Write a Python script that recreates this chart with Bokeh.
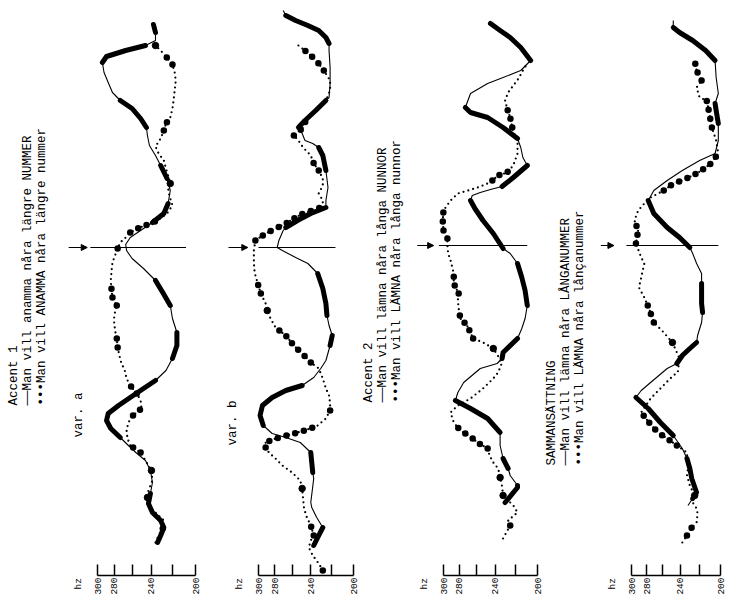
import math
from bokeh.plotting import figure
from bokeh.layouts import row
from bokeh.models import Range1d, FixedTicker, Label, Arrow, NormalHead
from bokeh.embed import file_html
from bokeh.resources import INLINE

# ---------------- data (time in ms, pitch in Hz) ----------------
hz_ticks = [300, 280, 260, 240, 220, 200]
hz_tick_labels = ["300", "280", "", "240", "", "200"]

# Panel 1 : Accent 1, var. a
p1_solid_t = [140, 168, 200, 228, 260, 296, 336, 380, 428, 468, 500, 528, 560, 596, 628, 656, 688, 720, 756, 788,
              828, 876, 928, 980, 1036, 1088, 1140, 1188, 1236, 1276, 1308, 1332, 1360, 1388, 1420, 1456, 1496, 1548,
              1596, 1648, 1688, 1728, 1768, 1800, 1836, 1876, 1908, 1940, 1980, 2020, 2060, 2084, 2108, 2128, 2148,
              2180, 2212]
p1_solid_hz = [234, 231, 228, 231, 239, 243, 241, 239, 241, 246, 256, 264, 273, 284, 289, 287, 275, 262, 248, 236,
               226, 220, 216, 216, 220, 222, 229, 236, 248, 260, 266, 267, 262, 251, 239, 228, 224, 222, 225, 231,
               236, 242, 244, 245, 251, 260, 273, 282, 287, 292, 294, 289, 267, 246, 236, 236, 238]
p1_solid_thick = [1, 1, 1, 1, 1, 1, 1, 0, 0, 0, 0, 0, 1, 1, 1, 1, 1, 1, 1, 1, 0, 1, 1, 1, 0, 1, 1, 1, 0, 0, 0, 0, 0, 0,
                  1, 1, 1, 0, 1, 1, 0, 0, 0, 1, 1, 1, 1, 0, 0, 0, 1, 1, 1, 1, 0, 1, 1]
p1_dot_t = [140, 168, 196, 228, 260, 288, 320, 348, 388, 428, 468, 500, 528, 556, 588, 620, 648, 676, 708, 736,
            768, 796, 828, 860, 888, 920, 956, 988, 1020, 1048, 1088, 1120, 1148, 1188, 1228, 1260, 1288, 1316, 1340,
            1360, 1380, 1396, 1412, 1428, 1456, 1488, 1516, 1548, 1576, 1608, 1636, 1668, 1696, 1724, 1756, 1788,
            1816, 1840, 1876, 1908, 1948, 1988, 2020, 2052, 2084, 2108, 2128, 2148]
p1_dot_hz = [236, 233, 229, 228, 236, 243, 244, 243, 239, 240, 246, 251, 262, 265, 266, 264, 259, 250, 251, 255,
             262, 266, 268, 272, 274, 276, 277, 279, 280, 280, 277, 282, 283, 284, 283, 282, 279, 276, 273, 267,
             262, 254, 244, 234, 225, 220, 222, 224, 222, 224, 226, 228, 233, 236, 231, 228, 226, 222, 220, 219,
             218, 217, 218, 220, 226, 231, 236, 238]
p1_dot_big = [0, 0, 1, 1, 0, 0, 1, 0, 0, 1, 0, 1, 1, 0, 0, 0, 1, 1, 0, 1, 1, 0, 0, 0, 0, 1, 1, 0, 0, 0, 1, 1, 1, 1,
              0, 0, 0, 1, 1, 0, 1, 1, 1, 1, 0, 0, 0, 0, 1, 0, 0, 0, 0, 0, 0, 1, 1, 1, 0, 0, 0, 0, 0, 1, 1, 0, 1, 0]

# Panel 2 : var. b
p2_solid_t = [128, 168, 200, 240, 280, 300, 396, 420, 460, 500, 540, 560, 576, 608, 648, 688, 720, 748, 768, 800,
              836, 868, 928, 968, 1008, 1048, 1096, 1156, 1216, 1256, 1280, 1308, 1320, 1348, 1388, 1400, 1428, 1456,
              1480, 1508, 1560, 1628, 1688, 1720, 1736, 1748, 1776, 1800, 1828, 1868, 1908, 1920, 1976, 2040, 2108,
              2136, 2160, 2188, 2208, 2228, 2248, 2268]
p2_solid_hz = [237, 232, 228, 234, 239, 240, 237, 238, 239, 240, 251, 267, 283, 294, 298, 295, 283, 267, 249, 237,
               230, 225, 221, 219, 222, 224, 225, 228, 233, 243, 256, 271, 277, 275, 270, 267, 254, 240, 225, 225,
               223, 225, 228, 232, 238, 246, 249, 253, 246, 235, 225, 222, 221, 221, 222, 222, 225, 232, 243, 256,
               267, 270]
p2_solid_thick = [1, 1, 1, 0, 0, 0, 0, 1, 1, 1, 0, 0, 0, 1, 1, 1, 1, 1, 1, 0, 0, 0, 1, 1, 0, 1, 1, 1, 1, 0, 0, 0, 0,
                  0, 0, 1, 1, 1, 1, 0, 0, 1, 1, 1, 0, 0, 0, 1, 1, 1, 1, 0, 0, 0, 0, 1, 1, 1, 1, 1, 1, 0]
p2_dot_t = [28, 56, 88, 120, 148, 168, 208, 240, 276, 316, 356, 388, 420, 448, 476, 500, 520, 540, 556, 572, 588,
            608, 636, 668, 696, 728, 756, 796, 836, 860, 896, 928, 968, 1000, 1036, 1068, 1096, 1136, 1176, 1220,
            1260, 1308, 1348, 1376, 1392, 1416, 1440, 1456, 1468, 1484, 1508, 1536, 1568, 1596, 1628, 1656, 1688,
            1720, 1748, 1768, 1796, 1836, 1876, 1908, 1948, 1988, 2028, 2060, 2096, 2128]
p2_dot_hz = [228, 232, 238, 242, 240, 237, 240, 244, 247, 248, 249, 251, 260, 271, 279, 287, 291, 291, 279, 262,
             246, 233, 225, 221, 221, 222, 225, 228, 232, 240, 249, 258, 267, 279, 285, 289, 291, 297, 301, 305,
             306, 306, 304, 291, 281, 267, 256, 248, 238, 228, 228, 232, 228, 228, 232, 237, 240, 248, 253, 258,
             249, 244, 232, 225, 221, 221, 227, 233, 242, 253]
p2_dot_big = [1, 1, 0, 0, 0, 1, 1, 0, 0, 0, 1, 0, 0, 0, 0, 0, 1, 1, 1, 1, 1, 1, 0, 1, 1, 0, 0, 0, 0, 1, 1, 1, 1, 1,
              0, 1, 0, 1, 1, 0, 0, 0, 1, 1, 1, 1, 1, 1, 1, 1, 0, 0, 0, 0, 1, 1, 1, 0, 0, 1, 1, 1, 0, 0, 0, 0, 1, 1,
              1, 1]

# Panel 3 : Accent 2
p3_solid_t = [300, 360, 368, 408, 436, 476, 528, 580, 636, 676, 708, 740, 780, 836, 856, 876, 900, 956, 996, 1036,
              1088, 1148, 1200, 1256, 1296, 1316, 1376, 1428, 1476, 1508, 1528, 1540, 1552, 1564, 1600, 1648, 1680,
              1720, 1756, 1800, 1840, 1860, 1880, 1936, 1976, 2000, 2028, 2068, 2120, 2160, 2188, 2216]
p3_solid_hz = [230, 218, 218, 225, 227, 232, 235, 235, 248, 267, 285, 282, 275, 256, 238, 233, 232, 218, 214, 211,
               209, 211, 214, 218, 225, 232, 242, 253, 262, 267, 265, 256, 245, 233, 222, 209, 213, 215, 218, 232,
               248, 267, 273, 267, 248, 232, 215, 206, 215, 225, 235, 245]
p3_solid_thick = [1, 1, 1, 0, 1, 1, 0, 1, 1, 1, 1, 0, 0, 0, 0, 1, 1, 1, 0, 0, 1, 1, 1, 1, 0, 1, 1, 1, 1, 1, 0, 0, 0,
                  1, 1, 1, 0, 0, 1, 1, 1, 1, 1, 0, 0, 0, 0, 1, 1, 1, 1, 1]
p3_dot_t = [156, 208, 228, 260, 288, 328, 364, 400, 436, 460, 488, 516, 540, 568, 588, 620, 660, 688, 716, 756,
            796, 820, 860, 916, 940, 956, 1008, 1036, 1076, 1108, 1136, 1176, 1216, 1268, 1296, 1328, 1356, 1388,
            1428, 1468, 1508, 1536, 1548, 1560, 1576, 1588, 1608, 1620, 1648, 1696, 1736, 1760, 1800, 1840, 1876,
            1908, 1940, 1968, 1996, 2028, 2056]
p3_dot_hz = [232, 225, 227, 218, 222, 232, 233, 235, 237, 242, 246, 248, 259, 269, 279, 287, 291, 282, 267, 253,
             242, 237, 233, 242, 253, 264, 271, 279, 281, 282, 281, 287, 287, 291, 294, 295, 295, 300, 301, 300,
             291, 282, 270, 259, 248, 243, 237, 228, 222, 218, 218, 220, 223, 225, 228, 230, 227, 222, 217, 213,
             209]
p3_dot_big = [0, 1, 1, 0, 0, 1, 0, 1, 0, 0, 0, 1, 1, 1, 1, 1, 0, 0, 0, 0, 0, 0, 0, 1, 0, 1, 1, 1, 1, 0, 1, 1, 1, 0,
              0, 0, 1, 1, 1, 1, 0, 0, 0, 0, 0, 1, 1, 1, 1, 0, 0, 0, 1, 1, 1, 0, 0, 0, 0, 0, 0]

# Panel 4 : Sammansattning
p4_solid_t = [288, 316, 340, 396, 436, 476, 516, 568, 620, 676, 720, 748, 780, 836, 856, 888, 916, 940, 968, 1020,
              1060, 1096, 1176, 1216, 1256, 1296, 1320, 1360, 1400, 1456, 1508, 1548, 1588, 1628, 1668, 1696, 1748,
              1816, 1868, 1896, 1936, 2000, 2068, 2108, 2148, 2180, 2200, 2228]
p4_solid_hz = [232, 227, 223, 228, 230, 233, 238, 248, 263, 278, 294, 287, 275, 255, 244, 238, 230, 223, 222, 218,
               217, 218, 218, 218, 223, 227, 230, 241, 255, 271, 278, 271, 255, 238, 220, 205, 202, 202, 204, 205,
               202, 204, 205, 214, 227, 241, 248, 248]
p4_solid_thick = [0, 1, 1, 1, 1, 1, 0, 1, 1, 1, 1, 0, 0, 0, 1, 1, 1, 1, 0, 0, 1, 1, 1, 0, 0, 0, 1, 1, 1, 1, 1, 0, 0,
                  0, 0, 0, 0, 1, 1, 1, 0, 0, 1, 1, 1, 1, 1, 0]
p4_dot_t = [140, 168, 200, 220, 256, 276, 300, 328, 368, 408, 436, 500, 528, 556, 580, 620, 660, 716, 756, 808,
            820, 876, 940, 980, 1020, 1076, 1120, 1160, 1200, 1228, 1256, 1280, 1336, 1388, 1428, 1468, 1496, 1520,
            1548, 1576, 1588, 1616, 1628, 1656, 1696, 1748, 1800, 1868, 1908, 1920, 1960, 1988, 2028, 2068]
p4_dot_hz = [238, 233, 228, 223, 222, 223, 227, 225, 230, 233, 232, 233, 244, 255, 266, 277, 287, 275, 263, 248,
             243, 241, 249, 259, 271, 277, 283, 290, 287, 285, 283, 287, 294, 291, 296, 291, 283, 275, 259, 248,
             238, 223, 218, 209, 202, 204, 208, 211, 213, 220, 223, 218, 223, 225]
p4_dot_big = [0, 1, 1, 1, 0, 0, 0, 1, 0, 0, 0, 0, 1, 1, 1, 1, 1, 0, 0, 0, 0, 0, 1, 0, 1, 1, 1, 0, 0, 0, 0, 0, 1, 1,
              1, 0, 0, 0, 1, 1, 1, 1, 1, 1, 1, 0, 1, 1, 1, 0, 0, 1, 1, 1]

# focus marker (arrow + line) per panel
mark_t = [1320, 1320, 1328, 1328]
mark_hz_from = [309, 300, 306, 307]
mark_hz_to = [208, 216, 209, 202]
arrow_hz_from = [338, 341, 336, 345]
arrow_hz_to = [313, 314, 313, 325]

# texts
p1_texts = ["Accent 1", "\u2500\u2500Man vill anamma n\u00e5ra l\u00e4ngre NUMMER",
            "\u2022\u2022\u2022Man vill ANAMMA n\u00e5ra l\u00e4ngre nummer"]
p1_var = "var. a"
p2_var = "var. b"
p3_texts = ["Accent 2", "\u2500\u2500Man vill l\u00e4mna n\u00e5ra l\u00e5nga NUNNOR",
            "\u2022\u2022\u2022Man vill L\u00c4MNA n\u00e5ra l\u00e5nga nunnor"]
p4_texts = ["SAMMANS\u00c4TTNING", "\u2500\u2500Man vill l\u00e4mna n\u00e5ra L\u00c5NGANUMMER",
            "\u2022\u2022\u2022Man vill L\u00c4MNA n\u00e5ra l\u00e5n\u00e7anummer"]
hz_unit = "hz"

# ---------------- layout ----------------
FONT = "Liberation Mono"
TXT = "12.5px"
H = 594
AXIS_ROW = 575        # picture row of the Hz axis line
T0_Y = 577            # picture row of t = 0
MS_PER_PX = 4

# canvas geometry of each panel: frame left/right, pixel of 300 Hz and 200 Hz
geoms = [
    dict(left=0, right=200, x300=97, x200=195),
    dict(left=200, right=360, x300=258, x200=353),
    dict(left=360, right=543, x300=443, x200=537),
    dict(left=543, right=726, x300=631, x200=720),
]


def hz_at(g, X):
    return 300.0 * (200.0 / 300.0) ** ((X - g["x300"]) / (g["x200"] - g["x300"]))


def runs(t, hz, flags):
    xs, ys, sx, sy = [], [], [], []
    n = len(t)
    i = 0
    while i < n:
        if flags[i]:
            j = i
            while j + 1 < n and flags[j + 1]:
                j += 1
            if j > i:
                xs.append(hz[i:j + 1])
                ys.append(t[i:j + 1])
            else:
                sx.append(hz[i])
                sy.append(t[i])
            i = j + 1
        else:
            i += 1
    return xs, ys, sx, sy


def make_panel(idx, g, solid, dots):
    w = g["right"] - g["left"]
    p = figure(width=w, height=H, x_axis_type="log",
               x_range=Range1d(hz_at(g, g["left"]), hz_at(g, g["right"])),
               y_range=Range1d((T0_Y - H) * MS_PER_PX, T0_Y * MS_PER_PX), y_axis_location=None,
               output_backend="svg", toolbar_location=None, title_location=None,
               min_border=0)
    p.outline_line_color = None
    p.grid.visible = False
    p.background_fill_color = "white"
    p.border_fill_color = "white"
    ax = p.xaxis[0]
    ax.fixed_location = (T0_Y - AXIS_ROW) * MS_PER_PX
    ax.ticker = FixedTicker(ticks=hz_ticks)
    ax.major_label_overrides = {float(k): v for k, v in zip(hz_ticks, hz_tick_labels)}
    ax.bounds = (200, 300)
    ax.major_tick_in = 11
    ax.major_tick_out = 0
    ax.minor_tick_in = 0
    ax.minor_tick_out = 0
    ax.axis_line_width = 1.5
    ax.major_tick_line_width = 1.5
    ax.major_label_orientation = math.pi / 2
    ax.major_label_standoff = 2
    ax.major_label_text_font = FONT
    ax.major_label_text_font_size = "9.5px"
    ax.major_label_text_color = "black"

    st, sh, sf = solid
    p.line(sh, st, line_color="black", line_width=1.1)
    xs, ys, sx, sy = runs(st, sh, sf)
    p.multi_line(xs, ys, line_color="black", line_width=5, line_cap="round", line_join="round")

    dt, dh, df = dots
    p.line(dh, dt, line_color="black", line_width=2.2, line_dash="0 5", line_cap="round")
    xs, ys, sx, sy = runs(dt, dh, df)
    p.multi_line(xs, ys, line_color="black", line_width=6.5, line_dash="0 9", line_cap="round")
    if sx:
        p.scatter(sx, sy, size=6.5, color="black")

    # focus marker
    p.line([mark_hz_from[idx], mark_hz_to[idx]], [mark_t[idx], mark_t[idx]], line_color="black", line_width=1)
    p.add_layout(Arrow(end=NormalHead(size=6, fill_color="black", line_color="black"),
                       x_start=arrow_hz_from[idx], y_start=mark_t[idx],
                       x_end=arrow_hz_to[idx], y_end=mark_t[idx], line_width=1, line_color="black"))
    return p


def add_text(p, g, X, Y, text, size=TXT):
    p.add_layout(Label(x=X - g["left"], y=H - Y, x_units="screen", y_units="screen",
                       angle=math.pi / 2, text=text, text_font=FONT, text_font_size=size,
                       text_color="black", text_baseline="middle", text_align="left"))


p1 = make_panel(0, geoms[0], (p1_solid_t, p1_solid_hz, p1_solid_thick), (p1_dot_t, p1_dot_hz, p1_dot_big))
p2 = make_panel(1, geoms[1], (p2_solid_t, p2_solid_hz, p2_solid_thick), (p2_dot_t, p2_dot_hz, p2_dot_big))
p3 = make_panel(2, geoms[2], (p3_solid_t, p3_solid_hz, p3_solid_thick), (p3_dot_t, p3_dot_hz, p3_dot_big))
p4 = make_panel(3, geoms[3], (p4_solid_t, p4_solid_hz, p4_solid_thick), (p4_dot_t, p4_dot_hz, p4_dot_big))

for X, txt in zip([13, 27, 41], p1_texts):
    add_text(p1, geoms[0], X, 405, txt)
add_text(p1, geoms[0], 78, 437, p1_var)
add_text(p2, geoms[1], 232, 445, p2_var)
for X, txt in zip([368, 382, 396], p3_texts):
    add_text(p3, geoms[2], X, 402, txt)
for X, txt in zip([551, 565, 579], p4_texts):
    add_text(p4, geoms[3], X, 465, txt)
for p, g in zip([p1, p2, p3, p4], geoms):
    add_text(p, g, g["x300"] - 19, 589, hz_unit, size="9.5px")

layout = row(p1, p2, p3, p4, spacing=0)
open("out.html", "w").write(file_html(layout, INLINE))
